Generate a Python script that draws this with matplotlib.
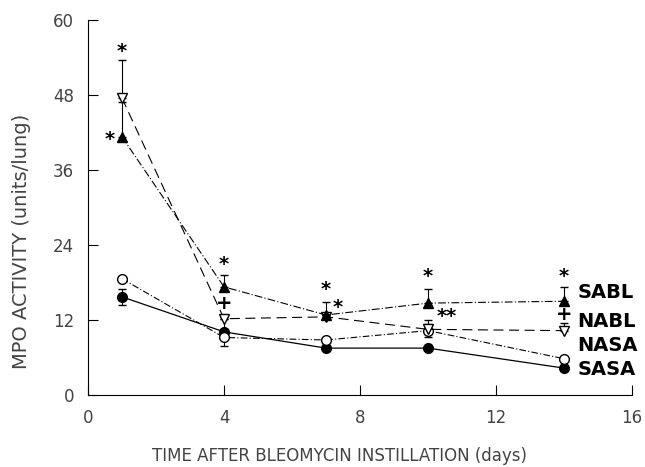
import numpy as np
import matplotlib
matplotlib.use('Agg')
import matplotlib.pyplot as plt

### MPO activity after bleomycin instillation

days = [1, 4, 7, 10, 14]

sabl = [41.3, 17.3, 12.8, 14.7, 15.0]
sabl_err = [5.5, 1.9, 2.1, 2.3, 2.3]
nabl = [47.5, 12.2, 12.5, 10.5, 10.3]
nabl_err = [6.1, 0.0, 0.0, 1.5, 1.2]
nasa = [18.6, 9.2, 8.8, 10.3, 5.8]
nasa_err = [0.0, 0.0, 0.0, 1.0, 0.0]
sasa = [15.7, 10.1, 7.5, 7.5, 4.3]
sasa_err = [1.3, 2.3, 0.0, 0.0, 0.0]

names = ['SABL', 'NABL', 'NASA', 'SASA']
name_y = [14.8, 10.2, 6.4, 2.6]

# asteriscos / cruzes de significância: (x, y, texto)
marks_x = [1, 0.65, 4, 4, 7, 7.35, 10, 10.55, 14, 14]
marks_y = [55.0, 40.8, 20.8, 14.7, 16.8, 14.0, 19.0, 12.6, 19.0, 12.8]
marks_txt = ['*', '*', '*', '+', '*', '*', '*', '**', '*', '+']

cor = 'black'
cinza = '#444444'
fig = plt.figure(figsize=(6.45, 4.67), dpi=100)
ax = fig.add_axes([0.1364, 0.1542, 0.8436, 0.803])

# SASA - sólido, círculo cheio
ax.errorbar(days, sasa, yerr=sasa_err, color=cor, lw=0.9, ls='-',
            marker='o', ms=7, mfc=cor, capsize=3, elinewidth=0.8)
# NASA - tracejado curto, círculo aberto
ax.errorbar(days, nasa, yerr=nasa_err, color=cor, lw=0.8, ls=(0, (6, 2, 1, 2)),
            marker='o', ms=7, mfc='white', capsize=3, elinewidth=0.8)
# NABL - tracejado longo, triângulo invertido aberto
ax.errorbar(days, nabl, yerr=[np.zeros(5), nabl_err], color=cor, lw=0.8,
            ls=(0, (9, 5)), marker='v', ms=7, mfc='white', capsize=3, elinewidth=0.8)
# SABL - traço-ponto, triângulo cheio
ax.errorbar(days, sabl, yerr=[np.zeros(5), sabl_err], color=cor, lw=0.8,
            ls=(0, (7, 2, 1, 2)), marker='^', ms=7, mfc=cor, capsize=3, elinewidth=0.8)

for x, y, t in zip(marks_x, marks_y, marks_txt):
    ax.text(x, y, t, ha='center', va='center', fontsize=14, fontweight='bold')

for n, y in zip(names, name_y):
    ax.text(14.4, y, n, ha='left', va='bottom', fontsize=14, fontweight='bold')

ax.set_xlim(0, 16)
ax.set_ylim(0, 60)
ax.set_xticks([0, 4, 8, 12, 16])
ax.set_yticks([0, 12, 24, 36, 48, 60])
ax.spines['top'].set_visible(False)
ax.spines['right'].set_visible(False)
ax.tick_params(direction='in', length=7, labelsize=12, labelcolor=cinza)
ax.tick_params(axis='x', pad=10)
ax.tick_params(axis='y', pad=10)

ax.set_xlabel('TIME AFTER BLEOMYCIN INSTILLATION (days)', fontsize=12,
              color=cinza)
ax.xaxis.set_label_coords(0.463, -0.14)
ax.set_ylabel('MPO ACTIVITY (units/lung)', fontsize=14, color=cinza)
ax.yaxis.set_label_coords(-0.105, 0.41)

plt.savefig('out.png', dpi=100)
